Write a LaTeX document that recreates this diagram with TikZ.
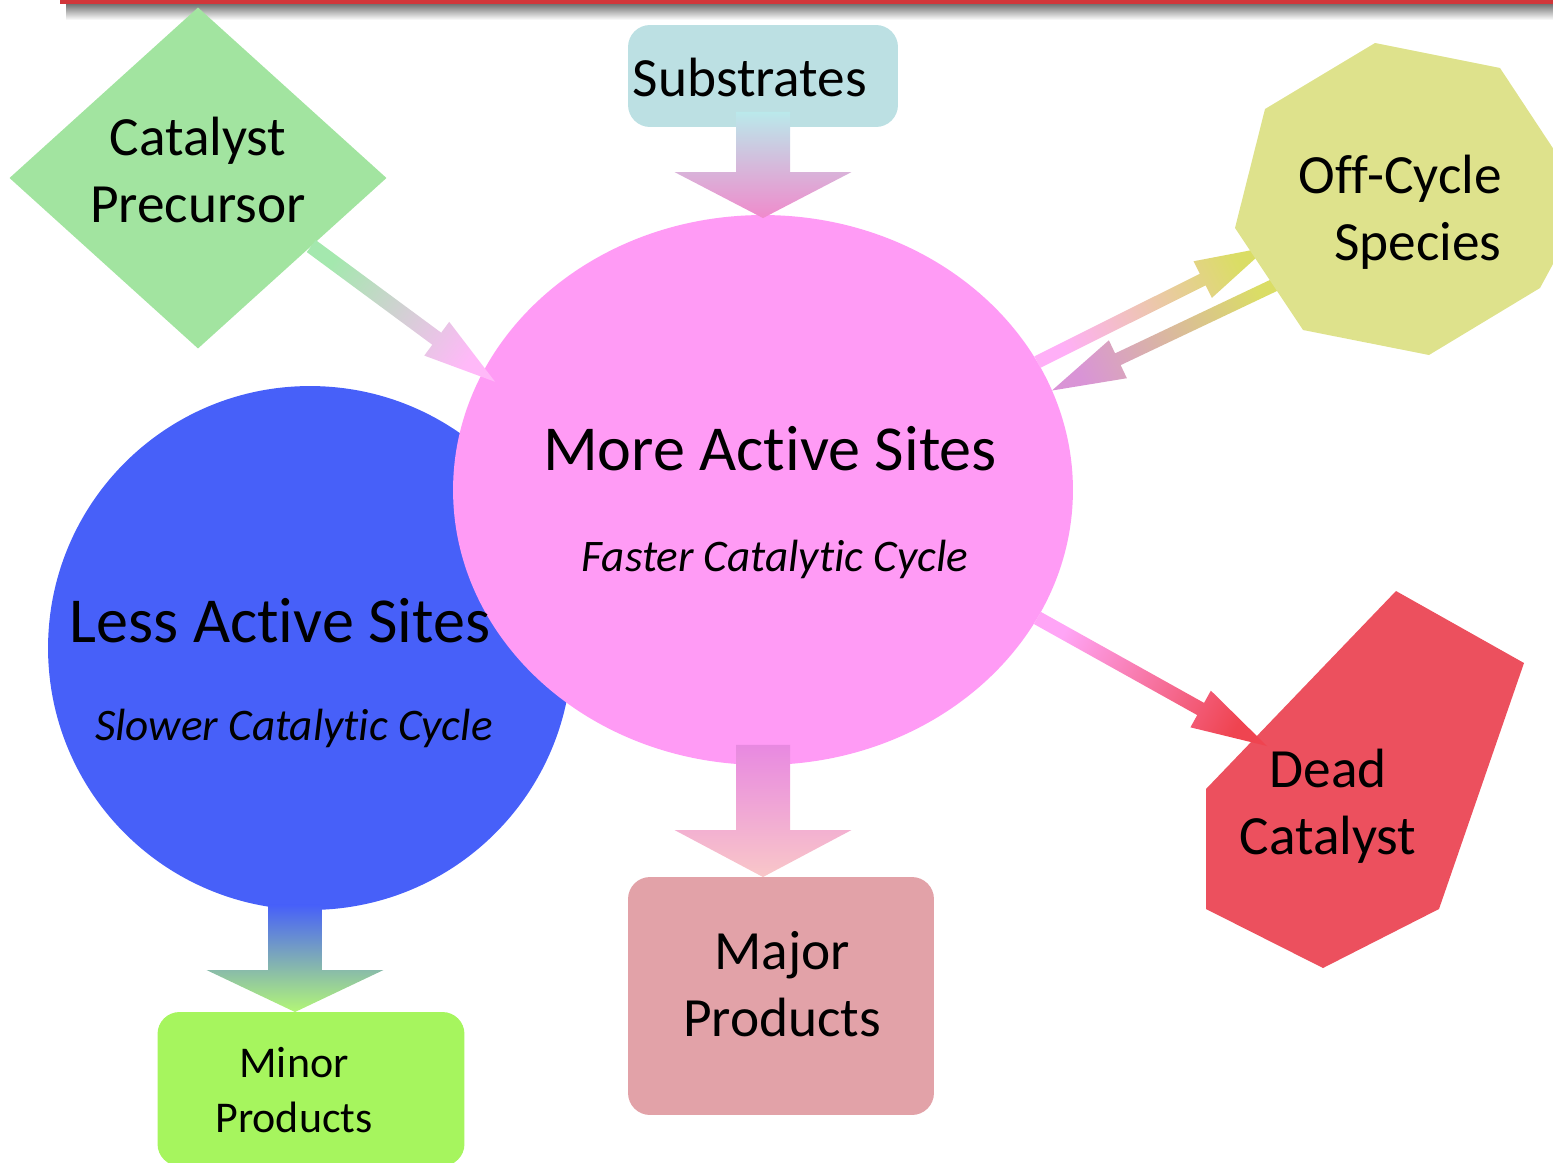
\documentclass[tikz,border=0pt]{standalone}
\usepackage{fontspec}
\setmainfont{Carlito}[Ligatures=NoCommon]
\usetikzlibrary{shapes.geometric,calc}

\definecolor{barred}{HTML}{D1363A}
\definecolor{moreC}{HTML}{FF9BF5}
\definecolor{lessC}{HTML}{4760F9}
\definecolor{precC}{HTML}{A2E4A0}
\definecolor{subsC}{HTML}{BCE0E3}
\definecolor{offC}{HTML}{DEE28C}
\definecolor{deadC}{HTML}{EC505E}
\definecolor{majC}{HTML}{E2A2A8}
\definecolor{minC}{HTML}{A6F55E}

% block arrow: from, to, half shaft, half head, head length, start colour, end colour
\newcommand{\flowarrow}[7]{%
  \path let \p1=(#1), \p2=(#2),
            \n1={atan2(\y2-\y1,\x2-\x1)},
            \n2={veclen(\x2-\x1,\y2-\y1)} in
    [top color=#7, bottom color=#6, shading angle=\n1-90]
    ($(\p1)+(\n1+90:#3)$) -- ($(\p1)+(\n1:\n2-#5)+(\n1+90:#3)$)
    -- ($(\p1)+(\n1:\n2-#5)+(\n1+90:#4)$) -- (\p2)
    -- ($(\p1)+(\n1:\n2-#5)+(\n1-90:#4)$)
    -- ($(\p1)+(\n1:\n2-#5)+(\n1-90:#3)$)
    -- ($(\p1)+(\n1-90:#3)$) -- cycle;}

\begin{document}
\begin{tikzpicture}[x=0.02cm, y=-0.02cm,
    blob/.style={inner sep=0pt, outer sep=0pt},
    box/.style={blob, rectangle, rounded corners=0.44cm},
    lbl/.style={align=center, inner sep=0pt},
    bigfont/.style={font=\fontsize{36.5}{44}\selectfont},
    midfont/.style={font=\fontsize{31.5}{38}\selectfont},
    subfont/.style={font=\fontsize{25.7}{31}\selectfont\itshape},
    smallfont/.style={font=\fontsize{25}{31}\selectfont}]
  \useasboundingbox (0,0) rectangle (1553,1163);
  \clip (0,0) rectangle (1553,1163);

  % top bar
  \shade[top color=black!55, bottom color=white] (66,4) rectangle (1553,20);
  \fill[barred] (60,-2) rectangle (1553,4);

  % sites
  \node[blob, circle, fill=lessC, minimum size=10.48cm] (less) at (310,648) {};
  \node[blob, ellipse, fill=moreC, minimum width=12.4cm, minimum height=11cm] (more) at (763,490) {};

  % boxes
  \node[blob, diamond, fill=precC, minimum width=7.54cm, minimum height=6.82cm] (prec) at (198,178) {};
  \node[box, fill=subsC, minimum width=5.4cm, minimum height=2.04cm] (subs) at (763,76) {};
  \node[box, fill=majC, minimum width=6.12cm, minimum height=4.76cm] (major) at (781,996) {};
  \node[box, fill=minC, minimum width=6.14cm, minimum height=3.08cm] (minor) at (311,1089) {};
  \fill[deadC] (1396,591) -- (1524,663) -- (1439,909) -- (1323,968) -- (1206,909) -- (1206,789) -- cycle;

  \coordinate (offin) at (1268,247);
  \coordinate (offout) at (1285,280);
  \coordinate (deadin) at (1267,746);

  % arrows
  \flowarrow{[yshift=0.3cm]subs.south}{[yshift=-0.06cm]more.north}{0.54cm}{1.77cm}{0.92cm}{subsC!90!cyan!80!white}{moreC!70!purple!80!white}
  \flowarrow{[yshift=0.4cm]more.south}{more.south |- major.north}{0.54cm}{1.77cm}{0.94cm}{moreC!80!violet!90!white}{majC!40!pink!90!red!60!white}
  \flowarrow{[xshift=-0.3cm,yshift=0.1cm]less.south}{[xshift=-0.32cm]minor.north}{0.54cm}{1.77cm}{0.84cm}{lessC}{minC!85!white}
  \flowarrow{prec.-31}{$(more.center)!0.95!(more.158)$}{0.15cm}{0.42cm}{1.45cm}{precC!95!cyan!90!white}{moreC!70!white}
  \flowarrow{more.25}{offin}{0.13cm}{0.41cm}{1.46cm}{moreC!80!white}{offC!80!yellow!90!olive}
  \flowarrow{offout}{more.19}{0.13cm}{0.42cm}{1.46cm}{offC!80!yellow!90!olive}{moreC!50!violet!60!white}
  \flowarrow{more.-25}{deadin}{0.14cm}{0.42cm}{1.52cm}{moreC!90!white}{deadC!85!red}

  \fill[offC] (1375,43) -- (1500,68) -- (1566,168) -- (1566,240) -- (1540,288) -- (1429,355) -- (1303,330) -- (1235,228) -- (1265,109) -- cycle;

  % labels
  \node[lbl, midfont] (precT) at (198,170) {Catalyst\\Precursor};
  \node[lbl, midfont] (subsT) at (750,77) {Substrates};
  \node[lbl, midfont, align=right, anchor=east] (offT) at (1502,212) {Off-Cycle\\Species};
  \node[lbl, bigfont] (moreT) at (770,449) {More Active Sites};
  \node[lbl, subfont] (moreS) at (775,559) {Faster Catalytic Cycle};
  \node[lbl, bigfont] (lessT) at (280,621) {Less Active Sites};
  \node[lbl, subfont] (lessS) at (294,728) {Slower Catalytic Cycle};
  \node[lbl, midfont] (deadT) at (1328,806) {Dead\\Catalyst};
  \node[lbl, midfont] (majT) at (782,984) {Major\\Products};
  \node[lbl, smallfont] (minT) at (294,1090) {Minor\\Products};
\end{tikzpicture}
\end{document}
